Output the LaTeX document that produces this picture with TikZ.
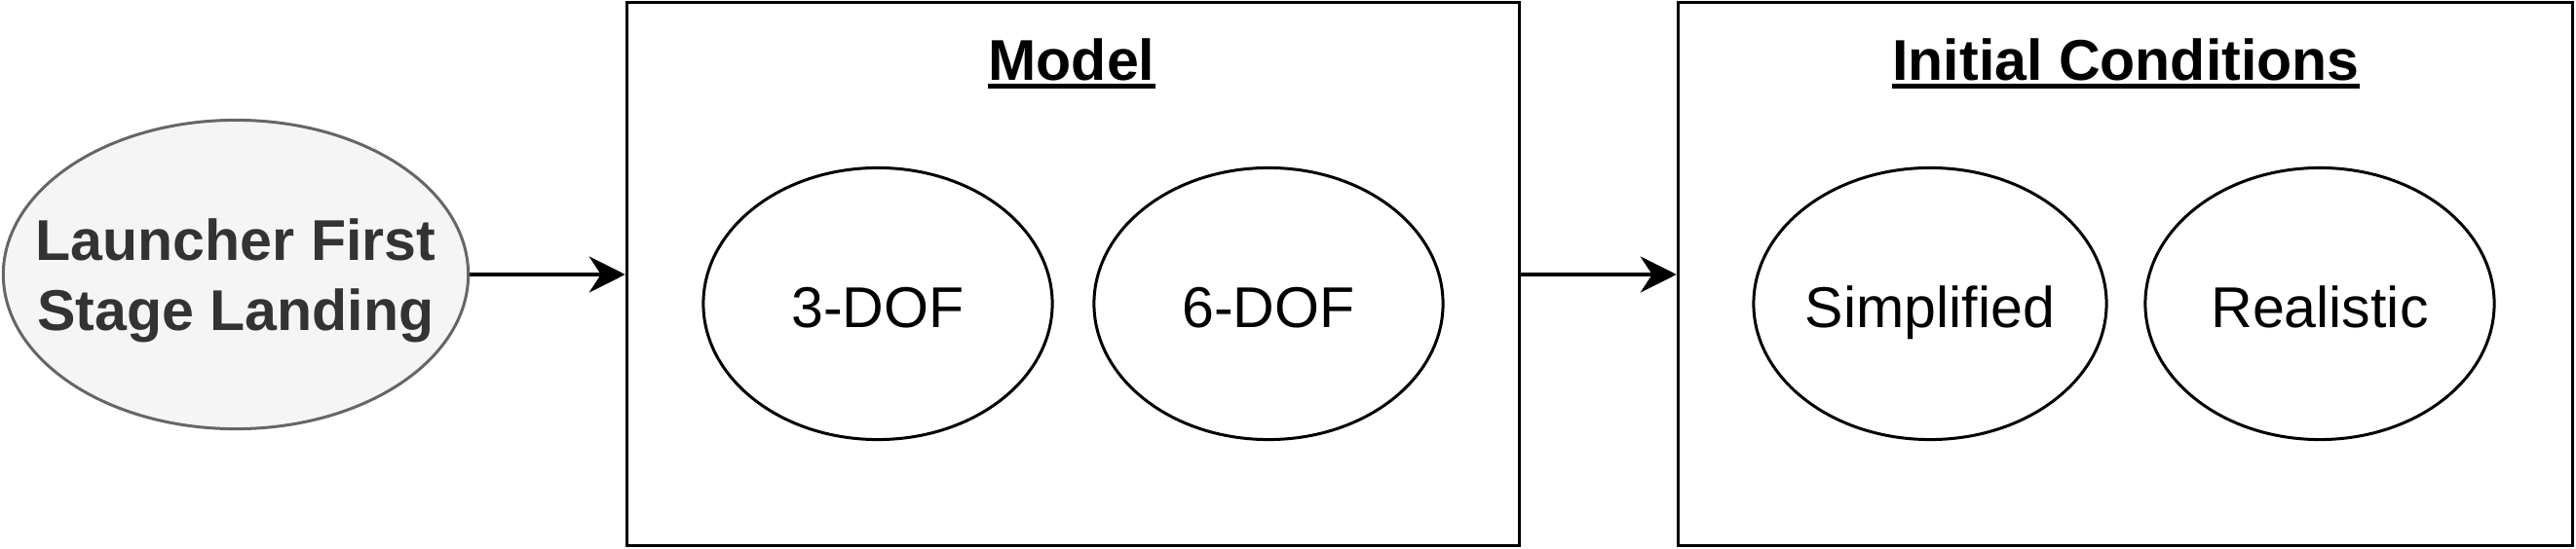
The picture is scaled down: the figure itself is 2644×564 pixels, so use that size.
\documentclass[tikz,border=0pt]{standalone}
\usepackage{fontspec}
\setmainfont{Liberation Sans}
\usetikzlibrary{shapes.geometric,arrows.meta}
\definecolor{lgfill}{HTML}{F5F5F5}
\definecolor{lgdraw}{HTML}{666666}
\definecolor{lgtext}{HTML}{333333}
\begin{document}
\begin{tikzpicture}[x=0.01cm,y=-0.01cm,
  font=\fontsize{16.8}{20.5}\selectfont,
  oval/.style={ellipse, draw=black, line width=0.03cm, minimum width=3.58cm, minimum height=2.79cm, inner sep=0pt, text height=0.48cm, text depth=0pt},
  panel/.style={rectangle, draw=black, line width=0.035cm, inner sep=0pt},
  ttl/.style={font=\fontsize{16.8}{20.5}\selectfont\bfseries, inner sep=0pt, anchor=base},
  uline/.style={line width=0.04cm},
  conn/.style={line width=0.035cm, -{Stealth[length=0.37cm,width=0.37cm,inset=0.12cm]}}
]
\useasboundingbox (0,0) rectangle (2644,564);
% panels
\node[panel, minimum width=9.155cm, minimum height=5.575cm] (model) at (1101.5,281.5) {};
\node[panel, minimum width=9.175cm, minimum height=5.575cm] (ic) at (2181.5,281.5) {};
% titles
\node[ttl] (mt) at (1100,83) {Model};
\draw[uline] ([yshift=-0.055cm]mt.base west) -- ([yshift=-0.055cm]mt.base east);
\node[ttl] (it) at (2182,83) {Initial Conditions};
\draw[uline] ([yshift=-0.055cm]it.base west) -- ([yshift=-0.055cm]it.base east);
% launcher
\node[ellipse, draw=lgdraw, fill=lgfill, line width=0.03cm, minimum width=4.77cm, minimum height=3.17cm, inner xsep=-1.2cm, inner ysep=-0.5cm, align=center, text=lgtext, font=\fontsize{16.8}{20.5}\selectfont\bfseries, text depth=0pt] (launch) at (242,282) {Launcher First\\Stage Landing};
% inner ovals
\node[oval] (dof3) at (901,312) {3-DOF};
\node[oval] (dof6) at (1302,312) {6-DOF};
\node[oval] (simp) at (1981,312) {Simplified};
\node[oval] (real) at (2381,312) {Realistic};
% connectors
\draw[conn] (launch.east) -- (launch.east -| model.west);
\draw[conn] (model.east |- launch.east) -- (launch.east -| ic.west);
\end{tikzpicture}
\end{document}
